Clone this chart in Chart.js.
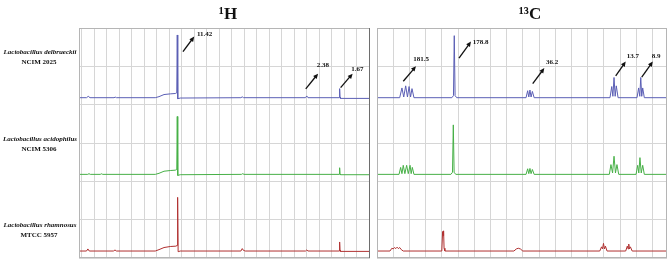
<!DOCTYPE html>
<html>
<head>
<meta charset="utf-8">
<script src="https://cdn.jsdelivr.net/npm/chart.js@4"></script>
<style>
  html, body { margin: 0; padding: 0; background: #fff; }
  #wrap { position: relative; width: 669px; height: 261px; }
  canvas { position: absolute; top: 0; }
  #chartH { left: 0; }
  #chartC { left: 373px; }
</style>
</head>
<body>
<div id="wrap">
  <canvas id="chartH" width="373" height="261"></canvas>
  <canvas id="chartC" width="296" height="261"></canvas>
</div>
<script>
const strainNames = ["Lactobacillus delbrueckii", "Lactobacillus acidophilus", "Lactobacillus rhamnosus"];
const strainCodes = ["NCIM 2025", "NCIM 5306", "MTCC 5957"];
const panelTitles = ["\u00B9H", "\u00B9\u00B3C"];
const hShiftLabels = ["11.42", "2.38", "1.67"];
const cShiftLabels = ["181.5", "178.8", "36.2", "13.7", "8.9"];

// 1H spectra (x = grid divisions, y = intensity)
const hxDel = [-0.2, 0.40, 0.54, 0.68, 2.60, 2.70, 2.80, 5.90, 6.20, 6.60, 7.10, 7.50, 7.62, 7.66, 7.70, 7.90, 12.75, 12.86, 12.97, 17.92, 18.02, 18.12, 20.62, 20.65, 20.68, 20.72, 23.08];
const hyDel = [0, 0, 2, 0, 0, 0.8, 0, 0, 1.5, 4.5, 5.5, 6, 7, 90, -1.5, -0.5, 0, 1.2, 0, 0, 2.5, 0, 0, 13, 1, -1, -1];
const hxAci = [-0.2, 0.50, 0.60, 0.70, 1.50, 1.60, 1.70, 5.90, 6.20, 6.60, 7.10, 7.50, 7.62, 7.66, 7.70, 7.90, 12.80, 12.90, 13.00, 20.62, 20.65, 20.68, 20.72, 23.08];
const hyAci = [0, 0, 1, 0, 0, 0.8, 0, 0, 1.5, 4.5, 5.5, 6, 7, 83, -1.5, -0.5, 0, 1, 0, 0, 9.5, 0.5, -0.5, -0.5];
const hxRha = [-0.2, 0.40, 0.51, 0.62, 2.55, 2.68, 2.80, 5.90, 6.20, 6.60, 7.10, 7.55, 7.65, 7.69, 7.73, 7.90, 12.75, 12.86, 12.95, 13.10, 17.92, 18.02, 18.12, 20.62, 20.65, 20.68, 20.72, 23.08];
const hyRha = [0, 0, 3, 0, 0, 1.5, 0, 0, 2, 5, 6.5, 7, 8, 77, -1, 0, 0, 3.5, 1, 0, 0, 1.5, 0, 0, 13, 1, -0.5, -0.5];

// 13C spectra
const cxDel = [0, 1.40, 1.54, 1.65, 1.77, 1.88, 1.98, 2.07, 2.16, 2.28, 4.62, 4.72, 4.77, 4.82, 4.92, 9.20, 9.30, 9.37, 9.44, 9.51, 9.59, 9.70, 14.38, 14.49, 14.56, 14.63, 14.70, 14.77, 14.88, 16.05, 16.15, 16.22, 16.28, 16.34, 16.40, 16.50, 17.9];
const cyDel = [0, 0, 14, 1, 17, 1, 16, 1, 13, 0, 0, 3, 89, 3, 0, 0, 10, 1, 11, 1, 9, 0, 0, 16, 2, 29, 2, 17, 0, 0, 14, 2, 29, 2, 14, 0, 0];
const cxAci = [0, 1.36, 1.46, 1.54, 1.62, 1.72, 1.83, 1.93, 2.04, 2.11, 2.18, 2.28, 4.56, 4.66, 4.71, 4.76, 4.86, 9.20, 9.30, 9.37, 9.44, 9.51, 9.59, 9.70, 14.34, 14.44, 14.54, 14.63, 14.72, 14.81, 14.92, 15.99, 16.09, 16.16, 16.23, 16.31, 16.40, 16.50, 17.9];
const cyAci = [0, 0, 10, 1, 13, 1, 13, 1, 13, 1, 10, 0, 0, 3, 71, 3, 0, 0, 8, 1, 8.5, 1, 7, 0, 0, 14, 2, 26, 2, 14, 0, 0, 13, 2, 24, 2, 13, 0, 0];
const cxRha = [0, 0.80, 0.92, 1.00, 1.08, 1.16, 1.24, 1.32, 1.40, 1.50, 1.62, 4.00, 4.05, 4.08, 4.11, 4.14, 4.19, 8.45, 8.60, 8.72, 8.85, 9.00, 13.75, 13.86, 13.92, 13.98, 14.04, 14.10, 14.20, 15.35, 15.45, 15.50, 15.54, 15.58, 15.64, 15.75, 17.9];
const cyRha = [0, 0, 4, 3, 5, 3.5, 5.5, 3.5, 5, 2, 0, 0, 28, 22, 29, 4, 0, 0, 3, 4, 3, 0, 0, 6, 3, 11, 3, 7, 0, 0, 7, 3, 10, 3, 6, 0, 0];

const seriesColors = ["#5b5fb5", "#47b047", "#b03030"];
const bandAxes = ["yA", "yB", "yC"];
const serif = '"Liberation Serif", "Times New Roman", serif';

function points(xs, ys) {
    return xs.map((x, i) => ({ x: x, y: ys[i] }));
}

function drawArrow(ctx, x0, y0, x1, y1) {
    const ang = Math.atan2(y1 - y0, x1 - x0);
    const len = 5, half = 2.3;
    ctx.beginPath();
    ctx.moveTo(x0, y0);
    ctx.lineTo(x1 - Math.cos(ang) * len * 0.8, y1 - Math.sin(ang) * len * 0.8);
    ctx.stroke();
    ctx.beginPath();
    ctx.moveTo(x1, y1);
    ctx.lineTo(x1 - Math.cos(ang) * len + Math.sin(ang) * half, y1 - Math.sin(ang) * len - Math.cos(ang) * half);
    ctx.lineTo(x1 - Math.cos(ang) * len - Math.sin(ang) * half, y1 - Math.sin(ang) * len + Math.cos(ang) * half);
    ctx.closePath();
    ctx.fill();
}

function buildChart(id, cfg) {
    const datasets = cfg.series.map((s, i) => ({
        data: points(s[0], s[1]),
        borderColor: seriesColors[i],
        borderWidth: 1,
        pointRadius: 0,
        tension: 0,
        yAxisID: bandAxes[i]
    }));

    const band = () => ({
        type: "linear",
        stack: "bands",
        stackWeight: 1,
        min: -10,
        max: 100,
        afterBuildTicks: s => { s.ticks = [-10, 45, 100].map(v => ({ value: v })); },
        ticks: { display: false },
        grid: { color: "#d6d6d6", drawTicks: false },
        border: { display: false }
    });

    const decor = {
        id: "decor",
        afterDraw(chart) {
            const ctx = chart.ctx;
            const a = chart.chartArea;
            ctx.save();
            // frame
            ctx.lineWidth = 1;
            ctx.strokeStyle = "#b5b5b5";
            ctx.strokeRect(a.left + 0.5, a.top + 0.5, a.right - a.left - 1, a.bottom - a.top - 1);
            if (cfg.darkRight) {
                ctx.strokeStyle = "#6e6e6e";
                ctx.beginPath();
                ctx.moveTo(a.right - 0.5, a.top);
                ctx.lineTo(a.right - 0.5, a.bottom);
                ctx.stroke();
            }
            // panel title
            ctx.fillStyle = "#111";
            ctx.font = "bold 17px " + serif;
            ctx.textAlign = "center";
            ctx.textBaseline = "alphabetic";
            ctx.fillText(cfg.title, cfg.titleX, 19);

            // strain labels
            if (cfg.strainLabels) {
                const rows = [[52, 62.5], [139, 149], [225, 235]];
                strainNames.forEach((name, i) => {
                    ctx.textBaseline = "middle";
                    ctx.font = "italic bold 7px " + serif;
                    ctx.fillText(name, 40, rows[i][0]);
                    ctx.font = "bold 7px " + serif;
                    ctx.fillText(strainCodes[i], 39, rows[i][1]);
                });
            }

            // shift arrows
            ctx.strokeStyle = "#111";
            ctx.lineWidth = 1.3;
            ctx.font = "bold 7px " + serif;
            ctx.textAlign = "left";
            ctx.textBaseline = "middle";
            cfg.arrows.forEach((ar, i) => {
                const el = chart.getDatasetMeta(0).data[ar.pt];
                const px = el.x, py = el.y;
                drawArrow(ctx, px + ar.tail[0], py + ar.tail[1], px + ar.head[0], py + ar.head[1]);
                ctx.fillText(cfg.labels[i], px + ar.text[0], py + ar.text[1]);
            });
            ctx.restore();
        }
    };

    return new Chart(document.getElementById(id), {
        type: "line",
        data: { datasets: datasets },
        options: {
            responsive: false,
            animation: false,
            events: [],
            layout: { padding: cfg.padding },
            plugins: { legend: { display: false }, tooltip: { enabled: false } },
            scales: {
                x: {
                    type: "linear",
                    min: cfg.xMin,
                    max: cfg.xMax,
                    ticks: { display: false, stepSize: 1, includeBounds: false },
                    grid: { color: "#d6d6d6", drawTicks: false },
                    border: { display: false }
                },
                yC: band(),
                yB: band(),
                yA: band()
            }
        },
        plugins: [decor]
    });
}

buildChart("chartH", {
    series: [[hxDel, hyDel], [hxAci, hyAci], [hxRha, hyRha]],
    xMin: -0.2, xMax: 23.08,
    padding: { left: 79, right: 3, top: 28, bottom: 3 },
    title: panelTitles[0], titleX: 228,
    darkRight: true,
    strainLabels: true,
    labels: hShiftLabels,
    arrows: [
        { pt: 13, tail: [5.7, 16.6], head: [17, 1.6], text: [19.7, -0.8] },
        { pt: 20, tail: [-1, -7], head: [11.3, -22.3], text: [10, -30.3] },
        { pt: 23, tail: [1, -1], head: [13, -15], text: [11.7, -19] }
    ]
});

buildChart("chartC", {
    series: [[cxDel, cyDel], [cxAci, cyAci], [cxRha, cyRha]],
    xMin: 0, xMax: 17.9,
    padding: { left: 4, right: 2, top: 28, bottom: 3 },
    title: panelTitles[1], titleX: 157,
    darkRight: false,
    strainLabels: false,
    labels: cShiftLabels,
    arrows: [
        { pt: 4, tail: [-2.4, -4.6], head: [10.3, -19.6], text: [7.6, -26.3] },
        { pt: 12, tail: [4.7, 22.5], head: [16.7, 5.9], text: [18.4, 6.9] },
        { pt: 18, tail: [2.8, -6.3], head: [14.4, -22], text: [16.1, -28.3] },
        { pt: 25, tail: [1.7, -1.7], head: [11.7, -16], text: [12.7, -21] },
        { pt: 32, tail: [1, -0.4], head: [12, -16], text: [11, -21] }
    ]
});
</script>
</body>
</html>
